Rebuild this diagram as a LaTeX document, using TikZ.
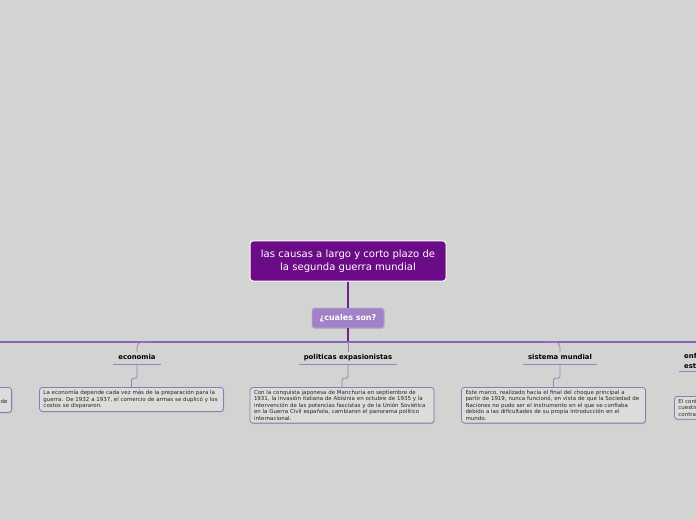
\documentclass[tikz,border=0pt]{standalone}
\usepackage{fontspec}
\setmainfont{DejaVu Sans}
\usetikzlibrary{shadows}

\definecolor{bgcol}{HTML}{D2D4D1}
\definecolor{maincol}{HTML}{6C0B88}
\definecolor{subcol}{HTML}{A282C6}
\definecolor{trunkcol}{HTML}{6E2390}
\definecolor{barcol}{HTML}{8C62B8}
\definecolor{linkcol}{HTML}{A07CC8}
\definecolor{notecol}{HTML}{9676B8}

\begin{document}
\begin{tikzpicture}[x=1bp, y=-1bp,
  mainbox/.style={draw=white, line width=1bp, fill=maincol, rounded corners=3bp,
    text=white, align=center, minimum width=196bp, minimum height=40bp,
    font=\fontsize{10.1}{13}\selectfont},
  subbox/.style={draw=subcol!70!white, line width=0.6bp, fill=subcol, rounded corners=2.5bp,
    text=white, minimum width=72bp, minimum height=20bp,
    font=\fontsize{8}{10}\selectfont\bfseries,
    drop shadow={shadow xshift=0.6bp, shadow yshift=-0.8bp, opacity=0.3}},
  headfont/.style={inner xsep=5bp, inner ysep=2.5bp,
    font=\fontsize{6.9}{10}\selectfont\bfseries},
  headtxt/.style={headfont, text height=5bp, text depth=2bp},
  notebox/.style={draw=notecol, line width=0.8bp, fill=bgcol!80!white, rounded corners=3bp,
    text width=176bp, inner xsep=4bp, inner ysep=2.8bp, align=left, text=black!85,
    font=\fontsize{5.5}{6.5}\selectfont,
    drop shadow={shadow xshift=0.7bp, shadow yshift=-0.9bp, opacity=0.35}},
  trunk/.style={draw=trunkcol, line width=1.3bp},
  link/.style={draw=linkcol, line width=0.8bp}]

\fill[bgcol] (0,0) rectangle (696,520);
\useasboundingbox (0,0) rectangle (696,520);

% centro
\node[mainbox] (root) at (348,261) {las causas a largo y corto plazo de\\la segunda guerra mundial};
\node[subbox] (cuales) at (348,318) {¿cuales son?};
\coordinate (hub) at (348,342);
\coordinate (barL) at (0,342);
\coordinate (barR) at (696,342);

\draw[trunk] (root.south) -- (cuales.north);
\draw[trunk] (cuales.south) -- (hub);
\draw[draw=barcol, line width=1.2bp] (barL) -- (barR);

% ramas
\node[headtxt] (econ) at (137,358) {economia};
\node[headtxt] (pol) at (348,358) {politicas expasionistas};
\node[headtxt] (sis) at (560,358) {sistema mundial};
\node[headfont, align=left, anchor=north west] (enf) at (679,351) {enf\\est};

\foreach \h in {econ, pol, sis, enf}
  \draw[link] (\h.south west) -- (\h.south east);

\coordinate (econJ) at (151,342);
\coordinate (sisJ) at (546,342);
\draw[link] (econJ) .. controls (137,342) .. (econ.north);
\draw[link] (hub) -- (pol.north);
\draw[link] (sisJ) .. controls (560,342) .. (sis.north);

% notas
\node[notebox, anchor=north] (econN) at (131.5,387) {La economía depende cada vez más de la preparación para la\\guerra. De 1932 a 1937, el comercio de armas se duplicó y los\\costos se dispararon.};
\node[notebox, anchor=north] (polN) at (342,387) {Con la conquista japonesa de Manchuria en septiembre de\\1931, la invasión italiana de Abisinia en octubre de 1935 y la\\intervención de las potencias fascistas y de la Unión Soviética\\en la Guerra Civil española, cambiaron el panorama político\\internacional.};
\node[notebox, anchor=north] (sisN) at (553.5,387) {Este marco, realizado hacia el final del choque principal a\\partir de 1919, nunca funcionó, en vista de que la Sociedad de\\Naciones no pudo ser el instrumento en el que se confiaba\\debido a las dificultades de su propia introducción en el\\mundo.};
\node[notebox, anchor=north west] (enfN) at (674,396) {El conf\\cuestic\\contra};
\node[notebox, anchor=north east, align=right] (leftN) at (12,387) {\mbox{}\\\mbox{}\\de\hspace{3bp}\\\mbox{}};

\draw[link, rounded corners=1.5bp] (econ.south) -- ++(0,14) -| (econN.north);
\draw[link, rounded corners=1.5bp] (pol.south) -- ++(0,14) -| (polN.north);
\draw[link, rounded corners=1.5bp] (sis.south) -- ++(0,14) -| (sisN.north);

\end{tikzpicture}
\end{document}
